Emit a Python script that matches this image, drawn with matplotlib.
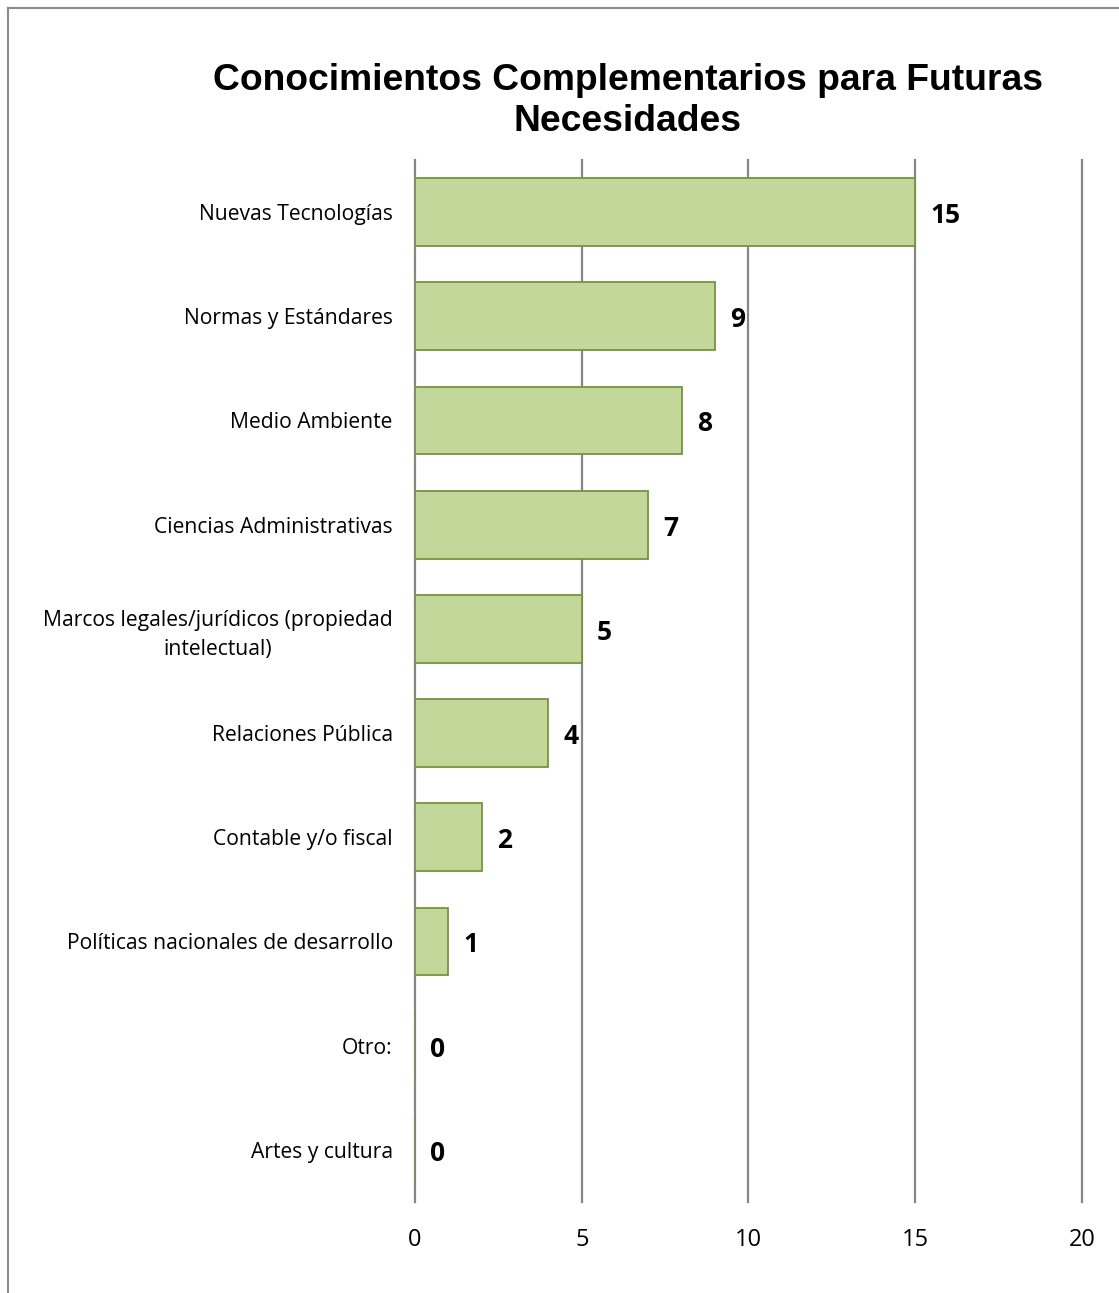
import matplotlib.pyplot as plt
from matplotlib.lines import Line2D

categories = [
    "Nuevas Tecnologías",
    "Normas y Estándares",
    "Medio Ambiente",
    "Ciencias Administrativas",
    "Marcos legales/jurídicos (propiedad\nintelectual)",
    "Relaciones Pública",
    "Contable y/o fiscal",
    "Políticas nacionales de desarrollo",
    "Otro:",
    "Artes y cultura",
]
values = [15, 9, 8, 7, 5, 4, 2, 1, 0, 0]
x_ticks = [0, 5, 10, 15, 20]

LABEL_FONT = "Open Sans"
TITLE_FONT = "Liberation Sans"

fig = plt.figure(figsize=(11.19, 12.93), dpi=100)
ax = fig.add_axes([0.3709, 0.0704, 0.596, 0.8059])

pos = list(range(len(categories)))
ax.barh(pos, values, height=0.65, color="#C4D79B", edgecolor="#77933C", linewidth=1.3, zorder=3)

for y, v in zip(pos, values):
    ax.annotate(str(v), (v, y), xytext=(11, -2.5), textcoords="offset points",
                ha="left", va="center", fontsize=19, fontweight="bold",
                family=LABEL_FONT, color="black")

ax.set_xlim(0, 20)
ax.set_ylim(len(categories) - 0.5, -0.5)
ax.set_xticks(x_ticks)
ax.set_yticks(pos)
ax.set_yticklabels(categories, family=LABEL_FONT, fontsize=15.2, linespacing=1.5)
ax.set_xticklabels([str(t) for t in x_ticks], family=LABEL_FONT, fontsize=17)
for lbl in ax.get_yticklabels():
    lbl.set_multialignment("center")
ax.tick_params(axis="both", length=0)
ax.tick_params(axis="y", pad=16)
ax.tick_params(axis="x", pad=19)
ax.grid(axis="x", color="#868686", linewidth=1.6, zorder=0)
for gl in ax.get_xgridlines():
    gl.set_clip_on(False)
for s in ax.spines.values():
    s.set_visible(False)

fig.text(0.561, 0.922, "Conocimientos Complementarios para Futuras\nNecesidades",
         ha="center", va="center", fontsize=26.8, fontweight="bold",
         family=TITLE_FONT, linespacing=1.2)

# chart area border (left and top edges visible)
fig.add_artist(Line2D([0.0075, 0.0075], [0, 0.9938], transform=fig.transFigure, color="#8C8C8C", linewidth=1.5))
fig.add_artist(Line2D([0.0075, 1.0], [0.9938, 0.9938], transform=fig.transFigure, color="#8C8C8C", linewidth=1.5))

fig.savefig("out.png", dpi=100)
